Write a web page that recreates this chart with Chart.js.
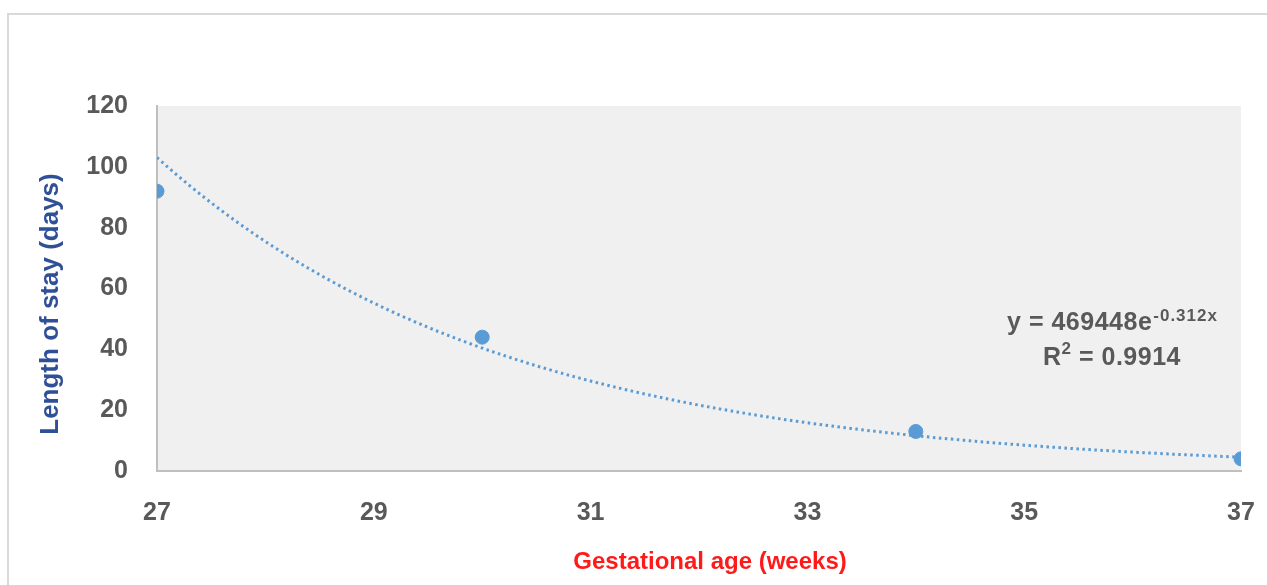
<!DOCTYPE html>
<html>
<head>
<meta charset="utf-8">
<script src="https://cdn.jsdelivr.net/npm/chart.js@4/dist/chart.umd.min.js"></script>
<style>
  html, body { margin: 0; padding: 0; background: #ffffff; }
  #wrap { width: 1267px; height: 585px; }
</style>
</head>
<body>
<div id="wrap"><canvas id="chart" width="1267" height="585"></canvas></div>
<script>
// Observed length of stay by gestational age
const weeks = [27, 30, 34, 37];
const stayDays = [92, 44, 13, 4];

// Exponential trendline y = A * e^(B x), as reported on the chart
const fitA = 469448;
const fitB = -0.312;
const rSquared = 0.9914;

const xTicks = [27, 29, 31, 33, 35, 37];
const yTicks = [0, 20, 40, 60, 80, 100, 120];

const xTitle = 'Gestational age (weeks)';
const yTitle = 'Length of stay (days)';

const blue = '#5B9BD5';
const tickColor = '#595959';
const fontFamily = "'Liberation Sans', Arial, sans-serif";

// Sample the fitted curve finely so it renders smooth
const trend = [];
for (let i = 0; i <= 200; i++) {
  const x = weeks[0] + (weeks[weeks.length - 1] - weeks[0]) * i / 200;
  trend.push({ x: x, y: fitA * Math.exp(fitB * x) });
}

const points = weeks.map((w, i) => ({ x: w, y: stayDays[i] }));

const frameAndBackground = {
  id: 'frameAndBackground',
  beforeDraw(chart) {
    const ctx = chart.ctx;
    const a = chart.chartArea;
    ctx.save();
    ctx.strokeStyle = '#D9D9D9';
    ctx.lineWidth = 2;
    ctx.strokeRect(8, 14, 1400, 800);
    ctx.fillStyle = '#F0F0F0';
    ctx.fillRect(a.left, a.top, a.right - a.left, a.bottom - a.top);
    ctx.restore();
  }
};

// Axis titles, placed a little off the axis centres
const axisTitles = {
  id: 'axisTitles',
  afterDraw(chart) {
    const ctx = chart.ctx;
    ctx.save();
    ctx.textAlign = 'center';
    ctx.textBaseline = 'middle';

    ctx.fillStyle = '#FF1A1A';
    ctx.font = 'bold 24px ' + fontFamily;
    ctx.fillText(xTitle, 710, 562);

    ctx.translate(51, 304);
    ctx.rotate(-Math.PI / 2);
    ctx.fillStyle = '#2F4F97';
    ctx.font = 'bold 26px ' + fontFamily;
    ctx.fillText(yTitle, 0, 0);
    ctx.restore();
  }
};

const equationLabel = {
  id: 'equationLabel',
  afterDatasetsDraw(chart) {
    const ctx = chart.ctx;
    const cx = 1112;
    const big = 'bold 25px ' + fontFamily;
    const small = 'bold 17px ' + fontFamily;
    ctx.save();
    ctx.fillStyle = tickColor;
    ctx.textBaseline = 'alphabetic';
    ctx.textAlign = 'left';

    const main = 'y = ' + fitA + 'e';
    const sup = fitB.toFixed(3) + 'x';
    ctx.letterSpacing = '0.5px';
    ctx.font = big;
    const wMain = ctx.measureText(main).width;
    ctx.letterSpacing = '1px';
    ctx.font = small;
    const wSup = ctx.measureText(sup).width;
    const start = cx - (wMain + wSup) / 2;
    ctx.letterSpacing = '0.5px';
    ctx.font = big;
    ctx.fillText(main, start, 330);
    ctx.letterSpacing = '1px';
    ctx.font = small;
    ctx.fillText(sup, start + wMain + 1, 321);

    const r1 = 'R';
    const r2 = '2';
    const r3 = ' = ' + rSquared.toFixed(4);
    ctx.letterSpacing = '0.5px';
    ctx.font = big;
    const w1 = ctx.measureText(r1).width;
    const w3 = ctx.measureText(r3).width;
    ctx.font = small;
    const w2 = ctx.measureText(r2).width;
    const s2 = cx - (w1 + w2 + w3) / 2;
    ctx.font = big;
    ctx.fillText(r1, s2, 365);
    ctx.font = small;
    ctx.fillText(r2, s2 + w1, 354);
    ctx.font = big;
    ctx.fillText(r3, s2 + w1 + w2, 365);
    ctx.restore();
  }
};

new Chart(document.getElementById('chart'), {
  type: 'scatter',
  data: {
    datasets: [
      {
        label: 'Length of stay',
        data: points,
        backgroundColor: blue,
        borderColor: blue,
        pointRadius: 7,
        pointHoverRadius: 7,
        order: 1
      },
      {
        label: 'Expon. trend',
        data: trend,
        type: 'line',
        showLine: true,
        borderColor: blue,
        borderWidth: 3,
        borderDash: [2.5, 3.5],
        borderCapStyle: 'butt',
        pointRadius: 0,
        fill: false,
        tension: 0,
        order: 2
      }
    ]
  },
  options: {
    responsive: false,
    animation: false,
    events: [],
    layout: { padding: { left: 0, top: 106, right: 26, bottom: 0 } },
    plugins: {
      legend: { display: false },
      tooltip: { enabled: false }
    },
    scales: {
      x: {
        type: 'linear',
        min: 27,
        max: 37,
        afterBuildTicks(scale) { scale.ticks = xTicks.map(v => ({ value: v })); },
        afterFit(scale) {
          scale.height = 114;
          scale.paddingLeft = 0;
          scale.paddingRight = 0;
        },
        grid: { display: false, drawTicks: false },
        border: { display: true, color: '#BFBFBF', width: 2 },
        ticks: {
          padding: 27,
          color: tickColor,
          font: { family: fontFamily, size: 25, weight: 'bold' }
        },
        title: { display: false, text: xTitle }
      },
      y: {
        type: 'linear',
        min: 0,
        max: 120,
        afterBuildTicks(scale) { scale.ticks = yTicks.map(v => ({ value: v })); },
        afterFit(scale) {
          scale.width = 157;
          scale.paddingTop = 0;
          scale.paddingBottom = 0;
        },
        grid: { display: false, drawTicks: false },
        border: { display: true, color: '#BFBFBF', width: 2 },
        ticks: {
          padding: 29,
          color: tickColor,
          font: { family: fontFamily, size: 25, weight: 'bold' }
        },
        title: { display: false, text: yTitle }
      }
    }
  },
  plugins: [frameAndBackground, axisTitles, equationLabel]
});
</script>
</body>
</html>
